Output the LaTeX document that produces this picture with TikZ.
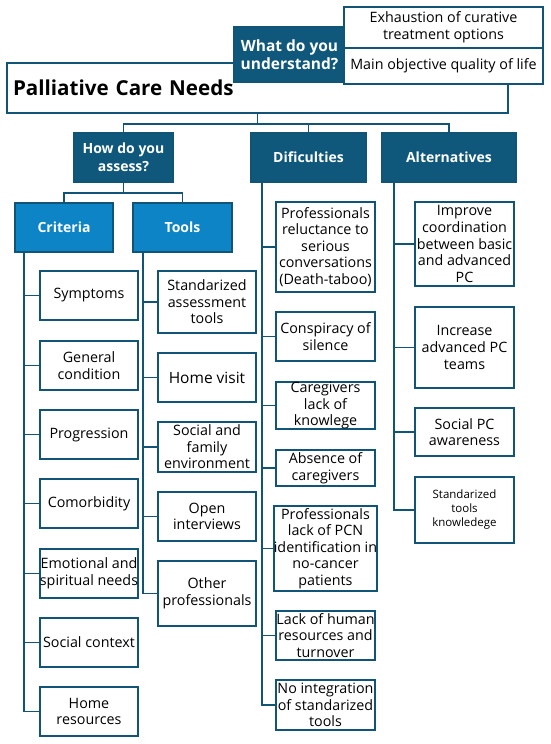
\documentclass[tikz,border=0pt]{standalone}
\usepackage{fontspec}
\setmainfont{Open Sans}
\usepackage{tikz}
\usetikzlibrary{positioning, calc}
\definecolor{deep}{RGB}{15,88,124}
\definecolor{edge}{RGB}{18,84,118}
\definecolor{bright}{RGB}{12,132,198}

\begin{document}
\begin{tikzpicture}[x=1pt, y=-1pt,
  head/.style={draw=edge, fill=deep, text=white, line width=1.8pt, align=center,
               inner sep=0pt, font=\fontsize{14}{17.5}\selectfont\bfseries},
  subhead/.style={head, fill=bright},
  leaf/.style={draw=edge, fill=white, line width=1.8pt, align=center, inner sep=0pt,
               minimum width=98pt, minimum height=49pt,
               font=\fontsize{14.3}{16.6}\selectfont},
  link/.style={draw=edge, line width=1.8pt},
]
  \useasboundingbox (0,0) rectangle (550,744);

  % Top: the central box and what it means
  \node[draw=edge, fill=white, line width=1.8pt, minimum width=501pt, minimum height=50pt,
        inner sep=6pt, text width=489pt, align=left,
        font=\fontsize{20.6}{24}\selectfont\bfseries] (pcn) at (257.5,88) {Palliative Care Needs};
  \node[head, minimum width=111pt, minimum height=55pt,
        font=\fontsize{15.5}{18}\selectfont\bfseries] (what) at (289.5,54.5) {What do you\\understand?};
  \node[leaf, minimum width=199pt, minimum height=41pt] (exh) at (443.5,27.5) {Exhaustion of curative\\treatment options};
  \node[leaf, minimum width=199pt, minimum height=36pt] (aim) at (443.5,66) {Main objective quality of life};

  % Second level
  \node[head, minimum width=99pt, minimum height=49pt] (how) at (123.5,157.5) {How do you\\assess?};
  \node[head, minimum width=115pt, minimum height=49pt] (dif) at (308.5,157.5) {Dificulties};
  \node[head, minimum width=134pt, minimum height=49pt] (alt) at (449,157.5) {Alternatives};
  \node[subhead, minimum width=98pt, minimum height=49pt] (crit) at (64,227.5) {Criteria};
  \node[subhead, minimum width=99pt, minimum height=49pt] (tools) at (182.5,227.5) {Tools};

  % Criteria
  \node[leaf] (symp) at (89,295.5) {Symptoms};
  \node[leaf] (cond) at (89,365.5) {General\\condition};
  \node[leaf] (prog) at (89,434.5) {Progression};
  \node[leaf] (comor) at (89,503.5) {Comorbidity};
  \node[leaf] (emot) at (89,573.5) {Emotional and\\spiritual needs};
  \node[leaf] (soc) at (89,642.5) {Social context};
  \node[leaf] (home) at (89,711.5) {Home\\resources};

  % Tools
  \node[leaf, minimum height=62pt] (std) at (207,302) {Standarized\\assessment\\tools};
  \node[leaf, font=\fontsize{15.5}{18}\selectfont] (visit) at (207,377.5) {Home visit};
  \node[leaf, minimum height=50pt] (family) at (207,447) {Social and\\family\\environment};
  \node[leaf] (interv) at (207,516.5) {Open\\interviews};
  \node[leaf, minimum height=65pt] (others) at (207,593.5) {Other\\professionals};

  % Dificulties
  \node[leaf, minimum width=99pt, minimum height=90pt] (taboo) at (325.5,247) {Professionals\\reluctance to\\serious\\conversations\\(Death-taboo)};
  \node[leaf, minimum width=99pt] (silence) at (325.5,336.5) {Conspiracy of\\silence};
  \node[leaf, minimum width=99pt, minimum height=47pt] (lack) at (325.5,405.5) {Caregivers\\lack of\\knowlege};
  \node[leaf, minimum width=99pt, minimum height=36pt] (absent) at (325.5,468) {Absence of\\caregivers};
  \node[leaf, minimum width=99pt, minimum height=85pt] (ident) at (325.5,548.5) {Professionals\\lack of PCN\\identification in\\no-cancer\\patients};
  \node[leaf, minimum width=99pt] (staff) at (325.5,635.5) {Lack of human\\resources and\\turnover};
  \node[leaf, minimum width=99pt, minimum height=50pt] (integr) at (325.5,705) {No integration\\of standarized\\tools};

  % Alternatives
  \node[leaf, minimum width=99pt, minimum height=84pt] (coord) at (464.5,244) {Improve\\coordination\\between basic\\and advanced\\PC};
  \node[leaf, minimum width=99pt, minimum height=81pt] (teams) at (464.5,347.5) {Increase\\advanced PC\\teams};
  \node[leaf, minimum width=99pt, minimum height=48pt] (aware) at (464.5,432) {Social PC\\awareness};
  \node[leaf, minimum width=99pt, minimum height=66pt, font=\fontsize{11.5}{14}\selectfont] (knowl) at (464.5,510) {Standarized\\tools\\knowledege};

  % Connectors
  \draw[link] (pcn.south) -- ++(0,10) coordinate (bus);
  \draw[link] (how.north) |- (bus) -| (alt.north);
  \draw[link] (dif.north) -- (dif.north |- bus);
  \draw[link] (how.south) -- ++(0,10) coordinate (hbus);
  \draw[link] (crit.north) |- (hbus) -| (tools.north);

  \coordinate (ctrunk) at ([xshift=10pt]crit.south west);
  \draw[link] (ctrunk) |- (home.west);
  \draw[link] (ctrunk |- symp.west) -- (symp.west);
  \draw[link] (ctrunk |- cond.west) -- (cond.west);
  \draw[link] (ctrunk |- prog.west) -- (prog.west);
  \draw[link] (ctrunk |- comor.west) -- (comor.west);
  \draw[link] (ctrunk |- emot.west) -- (emot.west);
  \draw[link] (ctrunk |- soc.west) -- (soc.west);

  \coordinate (ttrunk) at ([xshift=11pt]tools.south west);
  \draw[link] (ttrunk) |- (others.west);
  \draw[link] (ttrunk |- std.west) -- (std.west);
  \draw[link] (ttrunk |- visit.west) -- (visit.west);
  \draw[link] (ttrunk |- family.west) -- (family.west);
  \draw[link] (ttrunk |- interv.west) -- (interv.west);

  \coordinate (dtrunk) at ([xshift=12pt]dif.south west);
  \draw[link] (dtrunk) |- (integr.west);
  \draw[link] (dtrunk |- taboo.west) -- (taboo.west);
  \draw[link] (dtrunk |- silence.west) -- (silence.west);
  \draw[link] (dtrunk |- lack.west) -- (lack.west);
  \draw[link] (dtrunk |- absent.west) -- (absent.west);
  \draw[link] (dtrunk |- ident.west) -- (ident.west);
  \draw[link] (dtrunk |- staff.west) -- (staff.west);

  \coordinate (atrunk) at ([xshift=13pt]alt.south west);
  \draw[link] (atrunk) |- (knowl.west);
  \draw[link] (atrunk |- coord.west) -- (coord.west);
  \draw[link] (atrunk |- teams.west) -- (teams.west);
  \draw[link] (atrunk |- aware.west) -- (aware.west);
\end{tikzpicture}
\end{document}
